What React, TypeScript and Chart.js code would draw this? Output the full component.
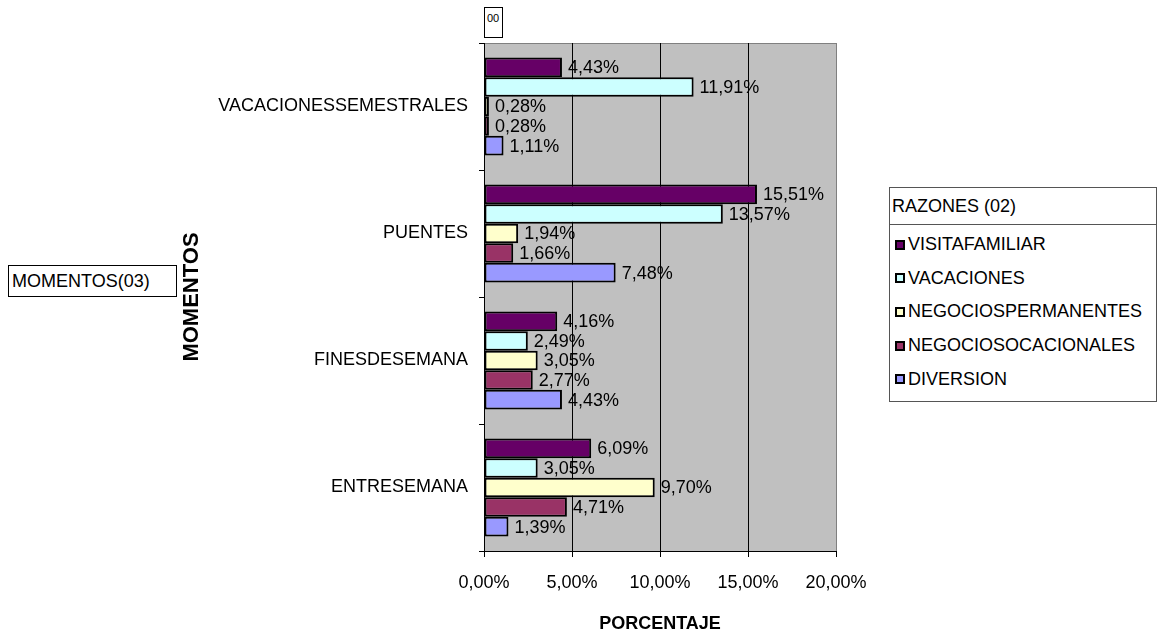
import { useEffect, useRef } from 'react';
import { Chart, registerables } from 'chart.js';

Chart.register(...registerables);

// ---- data ----
const CATEGORIES = ['VACACIONESSEMESTRALES', 'PUENTES', 'FINESDESEMANA', 'ENTRESEMANA'];
const VISITAFAMILIAR = [4.43, 15.51, 4.16, 6.09];
const VACACIONES = [11.91, 13.57, 2.49, 3.05];
const NEGOCIOSPERMANENTES = [0.28, 1.94, 3.05, 9.7];
const NEGOCIOSOCACIONALES = [0.28, 1.66, 2.77, 4.71];
const DIVERSION = [1.11, 7.48, 4.43, 1.39];
const SERIES_NAMES = ['VISITAFAMILIAR', 'VACACIONES', 'NEGOCIOSPERMANENTES', 'NEGOCIOSOCACIONALES', 'DIVERSION'];
const SERIES_DATA = [VISITAFAMILIAR, VACACIONES, NEGOCIOSPERMANENTES, NEGOCIOSOCACIONALES, DIVERSION];
const SERIES_COLORS = ['#660066', '#CCFFFF', '#FFFFCC', '#993366', '#9999FF'];
const X_TICKS = [0, 5, 10, 15, 20];
const X_TITLE = 'PORCENTAJE';
const Y_TITLE = 'MOMENTOS';
const LEGEND_TITLE = 'RAZONES (02)';
const FIELD_LABEL = 'MOMENTOS(03)';
const PAGE_LABEL = '00';

function fontAvailable(name: string): boolean {
  try {
    const ctx = document.createElement('canvas').getContext('2d');
    if (!ctx) return false;
    const sample = 'VACACIONESSEMESTRALES 0,00%';
    return ['monospace', 'serif'].some((fb) => {
      ctx.font = `40px ${fb}`;
      const a = ctx.measureText(sample).width;
      ctx.font = `40px '${name}', ${fb}`;
      const b = ctx.measureText(sample).width;
      return Math.abs(a - b) > 0.5;
    });
  } catch {
    return false;
  }
}

const NARROW = fontAvailable('Liberation Sans Narrow');
const FAMILY = NARROW ? "'Liberation Sans Narrow', 'Liberation Sans', Arial, sans-serif" : "'Liberation Sans', Arial, sans-serif";
const K = NARROW ? 1 : 0.82;
const SZ = (n: number) => Math.round(n * K);

const fmt = (v: number) => v.toFixed(2).replace('.', ',') + '%';

const plotBg = {
  id: 'plotBg',
  beforeDraw(chart: any) {
    const { ctx, chartArea: a } = chart;
    ctx.save();
    ctx.fillStyle = '#C0C0C0';
    ctx.fillRect(a.left, a.top, a.right - a.left, a.bottom - a.top);
    ctx.strokeStyle = '#808080';
    ctx.lineWidth = 1;
    ctx.beginPath();
    ctx.moveTo(a.left, a.top + 0.5);
    ctx.lineTo(a.right + 0.5, a.top + 0.5);
    ctx.lineTo(a.right + 0.5, a.bottom);
    ctx.stroke();
    ctx.restore();
  },
};

const dataLabels = {
  id: 'dataLabels',
  afterDatasetsDraw(chart: any) {
    const { ctx } = chart;
    ctx.save();
    ctx.fillStyle = '#000';
    ctx.font = `${SZ(22)}px ${FAMILY}`;
    ctx.textAlign = 'left';
    ctx.textBaseline = 'middle';
    chart.data.datasets.forEach((ds: any, i: number) => {
      const meta = chart.getDatasetMeta(i);
      meta.data.forEach((el: any, j: number) => {
        ctx.fillText(fmt(ds.data[j]), el.x + 6, el.y + 1);
      });
    });
    ctx.restore();
  },
};

export default function App() {
  const ref = useRef<HTMLCanvasElement>(null);

  useEffect(() => {
    if (!ref.current) return;
    const chart = new Chart(ref.current, {
      type: 'bar',
      data: {
        labels: CATEGORIES,
        datasets: SERIES_NAMES.map((name, i) => ({
          label: name,
          data: SERIES_DATA[i],
          backgroundColor: SERIES_COLORS[i],
          borderColor: '#000',
          borderWidth: 2,
          borderSkipped: false,
          categoryPercentage: 0.77,
          barPercentage: 1,
        })),
      },
      options: {
        indexAxis: 'y',
        responsive: false,
        animation: false,
        events: [],
        layout: { padding: { left: 179, right: 322, top: 43, bottom: 0 } },
        plugins: {
          legend: { display: false },
          title: { display: false },
          tooltip: { enabled: false },
        },
        scales: {
          x: {
            type: 'linear',
            position: 'bottom',
            min: 0,
            max: 20,
            afterBuildTicks: (s: any) => {
              s.ticks = X_TICKS.map((v) => ({ value: v }));
            },
            ticks: {
              callback: (v: any) => fmt(Number(v)),
              color: '#000',
              font: { family: FAMILY, size: SZ(22), lineHeight: 1.2 },
              padding: 15,
              maxRotation: 0,
              autoSkip: false,
            },
            grid: {
              color: (c: any) => (c.index === 4 ? '#808080' : '#000'),
              tickColor: '#000',
              lineWidth: 1,
              tickLength: 6,
              drawTicks: true,
            },
            border: { display: true, color: '#000' },
            title: {
              display: true,
              text: X_TITLE,
              color: '#000',
              font: { family: FAMILY, size: SZ(22), weight: 'bold', lineHeight: 1.2 },
              padding: 0,
            },
            afterFit: (s: any) => {
              s.height = 84;
            },
          },
          y: {
            type: 'category',
            ticks: {
              color: '#000',
              font: { family: FAMILY, size: SZ(22), lineHeight: 1.2 },
              padding: 11,
              autoSkip: false,
            },
            grid: {
              offset: true,
              drawOnChartArea: false,
              drawTicks: true,
              tickLength: 5,
              color: '#000',
            },
            border: { display: true, color: '#000' },
            title: {
              display: true,
              text: Y_TITLE,
              color: '#000',
              font: { family: "'Liberation Sans', Arial, sans-serif", size: 22, weight: 'bold', lineHeight: 1.2 },
              padding: 0,
            },
            afterFit: (s: any) => {
              s.width = 305;
            },
          },
        },
      } as any,
      plugins: [plotBg, dataLabels],
    });
    return () => chart.destroy();
  }, []);

  const textFont = { fontFamily: FAMILY, color: '#000' } as const;

  return (
    <div style={{ position: 'absolute', left: 0, top: 0, width: 1158, height: 635, background: '#fff', overflow: 'hidden' }}>
      <canvas ref={ref} width={1158} height={635} style={{ display: 'block', position: 'absolute', left: 0, top: 0 }} />

      {/* page field box */}
      <div
        style={{
          position: 'absolute', left: 484, top: 7, width: 19, height: 31, boxSizing: 'border-box',
          border: '1px solid #000', background: '#fff', ...textFont, fontSize: 11, lineHeight: '11px', padding: '5px 0 0 2px',
        }}
      >
        {PAGE_LABEL}
      </div>

      {/* row field box */}
      <div
        style={{
          position: 'absolute', left: 8, top: 265, width: 169, height: 32, boxSizing: 'border-box',
          border: '1px solid #000', background: '#fff', ...textFont, fontSize: SZ(22), lineHeight: '30px', paddingLeft: 3,
          whiteSpace: 'nowrap',
        }}
      >
        {FIELD_LABEL}
      </div>

      {/* legend */}
      <div
        style={{
          position: 'absolute', left: 889, top: 187, width: 268, height: 215, boxSizing: 'border-box',
          border: '1px solid #555', background: '#fff', ...textFont,
        }}
      >
        <div
          style={{
            height: 36, lineHeight: '36px', fontSize: SZ(22), paddingLeft: 2, borderBottom: '1px solid #555', whiteSpace: 'nowrap',
          }}
        >
          {LEGEND_TITLE}
        </div>
        <div style={{ paddingTop: 3 }}>
          {SERIES_NAMES.map((name, i) => (
            <div key={name} style={{ height: 33.6, display: 'flex', alignItems: 'center', whiteSpace: 'nowrap' }}>
              <span
                style={{
                  display: 'inline-block', width: 10, height: 10, boxSizing: 'border-box', border: '2px solid #000',
                  background: SERIES_COLORS[i], marginLeft: 5, marginRight: 3, flex: 'none',
                }}
              />
              <span style={{ fontSize: SZ(22), lineHeight: '33px' }}>{name}</span>
            </div>
          ))}
        </div>
      </div>
    </div>
  );
}
